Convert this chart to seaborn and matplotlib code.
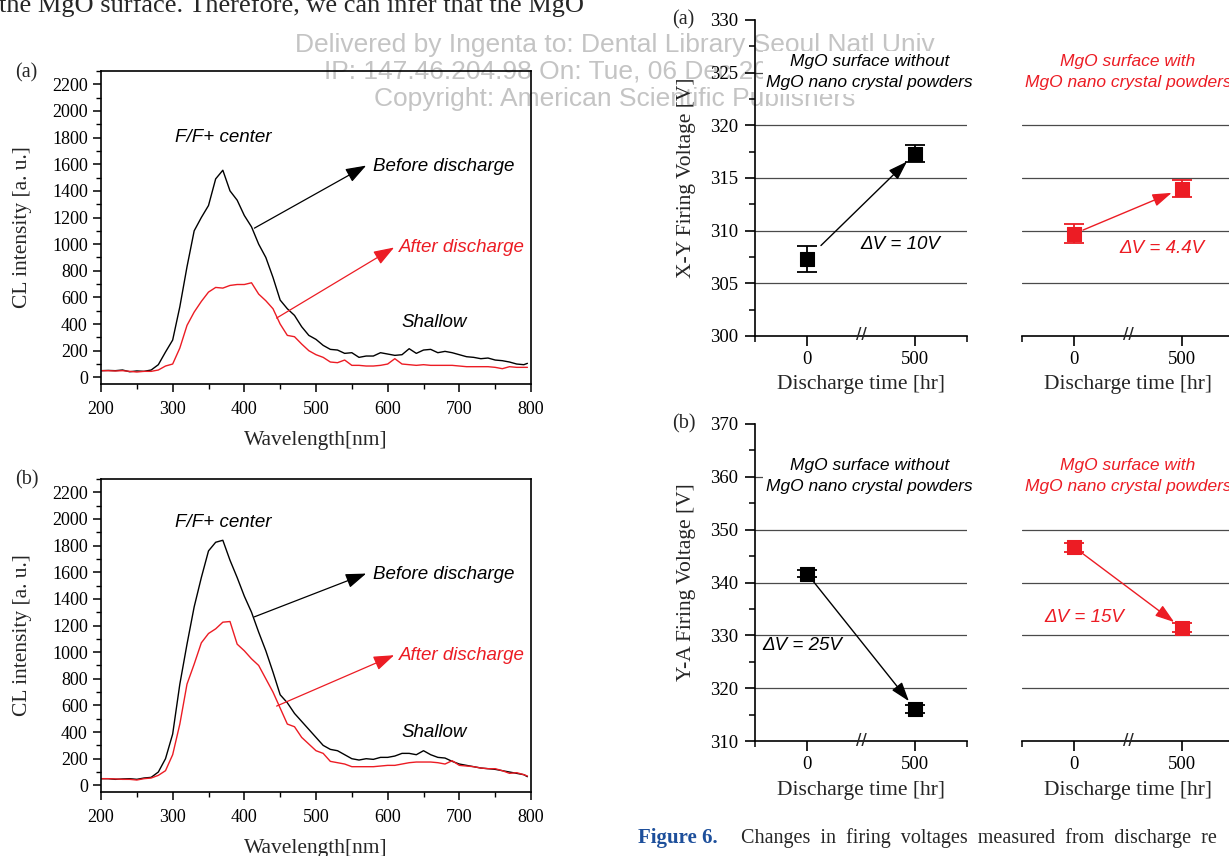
import matplotlib
matplotlib.use('Agg')
import matplotlib.pyplot as plt
import matplotlib.transforms as mtransforms
from matplotlib.ticker import MultipleLocator, FixedLocator
import seaborn as sns

# CL spectra, every 10 nm (last point 795 nm)
wavelength = [200, 210, 220, 230, 240, 250, 260, 270, 280, 290,
              300, 310, 320, 330, 340, 350, 360, 370, 380, 390,
              400, 410, 420, 430, 440, 450, 460, 470, 480, 490,
              500, 510, 520, 530, 540, 550, 560, 570, 580, 590,
              600, 610, 620, 630, 640, 650, 660, 670, 680, 690,
              700, 710, 720, 730, 740, 750, 760, 770, 780, 790, 795]

a_before = [50, 52, 50, 55, 42, 48, 45, 55, 95, 190,
            280, 530, 830, 1100, 1200, 1290, 1490, 1555, 1400, 1330,
            1215, 1130, 1000, 900, 750, 580, 515, 465, 380, 315,
            285, 240, 210, 205, 180, 185, 150, 160, 160, 185,
            175, 165, 170, 215, 180, 205, 210, 185, 195, 185,
            170, 155, 150, 140, 145, 130, 125, 115, 100, 95, 105]
a_after = [50, 50, 48, 50, 45, 40, 45, 45, 55, 85,
           100, 220, 390, 490, 570, 640, 675, 670, 690, 697,
           697, 710, 625, 575, 515, 400, 315, 305, 250, 200,
           170, 150, 115, 110, 130, 90, 90, 85, 85, 90,
           100, 140, 100, 95, 90, 95, 90, 90, 90, 90,
           85, 80, 80, 80, 80, 75, 65, 80, 75, 75, 75]

b_before = [50, 50, 45, 48, 50, 45, 55, 60, 100, 200,
            385, 760, 1060, 1340, 1560, 1760, 1825, 1840, 1690, 1560,
            1420, 1300, 1150, 1010, 850, 680, 620, 540, 480, 420,
            360, 300, 270, 260, 230, 200, 190, 200, 195, 210,
            210, 220, 240, 240, 230, 260, 230, 210, 205, 180,
            160, 150, 140, 130, 125, 120, 110, 100, 90, 80, 65]
b_after = [50, 50, 48, 45, 45, 40, 50, 55, 75, 110,
           230, 460, 760, 910, 1070, 1140, 1175, 1225, 1230, 1060,
           1010, 950, 900, 800, 700, 580, 460, 440, 360, 310,
           260, 240, 180, 170, 160, 140, 140, 140, 140, 145,
           150, 150, 160, 170, 175, 175, 175, 170, 160, 185,
           150, 145, 140, 130, 125, 125, 110, 90, 95, 80, 70]

# firing voltages [V] at 0 and 500 hr
hours = [0, 500]
xy_without = [307.3, 317.3]
xy_without_err = [1.25, 0.8]
xy_with = [309.7, 314.0]
xy_with_err = [0.9, 0.8]
ya_without = [341.7, 316.1]
ya_without_err = [0.6, 0.8]
ya_with = [346.7, 331.4]
ya_with_err = [0.85, 0.85]

RED = '#ec1c24'
SERIF = ['Liberation Serif', 'DejaVu Serif']
SANS = ['Liberation Sans', 'DejaVu Sans']

sns.set_theme(style='ticks')
plt.rcParams['font.family'] = SERIF
plt.rcParams['axes.linewidth'] = 1.2
plt.rcParams['xtick.color'] = 'black'
plt.rcParams['ytick.color'] = 'black'

W, H = 1229, 856
fig = plt.figure(figsize=(W / 100, H / 100), dpi=100)
fig.patch.set_facecolor('white')


def box(l, t, w, h):
    return [l / W, 1 - (t + h) / H, w / W, h / H]


def italic(ax, x, y, s, color='black', size=13.5, **kw):
    ax.text(x, y, s, color=color, fontsize=size, style='italic', family=SANS, **kw)


def spectrum(ax, before, after, labels_y):
    sns.lineplot(x=wavelength, y=before, color='black', linewidth=1.0, ax=ax, legend=False)
    sns.lineplot(x=wavelength, y=after, color=RED, linewidth=1.0, ax=ax, legend=False)
    ax.set_xlim(200, 800)
    ax.set_ylim(-50, 2300)
    ax.xaxis.set_major_locator(MultipleLocator(100))
    ax.xaxis.set_minor_locator(MultipleLocator(50))
    ax.yaxis.set_major_locator(MultipleLocator(200))
    ax.yaxis.set_minor_locator(MultipleLocator(100))
    ax.tick_params(which='major', direction='out', length=6, width=1.1, labelsize=13)
    ax.tick_params(which='minor', direction='out', length=3.5, width=1.0)
    ax.tick_params(axis='x', which='major', pad=6)
    ax.set_ylim(-50, 2300)
    ax.set_xlabel('Wavelength[nm]', fontsize=15.5)
    ax.set_ylabel('CL intensity [a. u.]', fontsize=15.5)
    ax.yaxis.set_label_coords(-0.16, 0.5)
    ax.xaxis.set_label_coords(0.5, -0.15)
    for s in ax.spines.values():
        s.set_visible(True)
        s.set_color('black')
    ax.set_facecolor('none')
    fy, by, bs, bt, ay, as_, at, sy = labels_y
    italic(ax, 370, fy, 'F/F+ center', ha='center', va='center')
    ax.annotate('', xy=(570, by), xytext=(414, bs),
                arrowprops=dict(arrowstyle='-|>,head_length=0.9,head_width=0.32', color='black',
                                lw=0.9, mutation_scale=14, shrinkA=0, shrinkB=0))
    italic(ax, 580, bt, 'Before discharge', va='center')
    ax.annotate('', xy=(609, ay), xytext=(445, as_),
                arrowprops=dict(arrowstyle='-|>,head_length=0.9,head_width=0.32', color=RED,
                                lw=0.9, mutation_scale=14, shrinkA=0, shrinkB=0))
    italic(ax, 616, at, 'After discharge', color=RED, va='center')
    italic(ax, 665, sy, 'Shallow', ha='center', va='center')


ax_a = fig.add_axes(box(101, 71, 430, 313))
spectrum(ax_a, a_before, a_after, (1800, 1590, 1120, 1586, 975, 445, 975, 410))
ax_b = fig.add_axes(box(101, 479, 430, 313))
spectrum(ax_b, b_before, b_after, (1975, 1590, 1265, 1585, 977, 595, 977, 400))


def voltage(ax, vals, errs, color, ylim, major, first, title, title_x, dv_xy, dv_text, shrink):
    ax.set_facecolor('none')
    sns.scatterplot(x=hours, y=vals, marker='s', s=95, color=color, edgecolor=color,
                    ax=ax, zorder=4, legend=False)
    ax.errorbar(hours, vals, yerr=errs, fmt='none', ecolor=color, elinewidth=1.3,
                capsize=7.5, capthick=1.3, zorder=3)
    ax.set_xlim(-241, 741)
    ax.set_ylim(*ylim)
    ax.yaxis.set_major_locator(MultipleLocator(major))
    ax.yaxis.set_minor_locator(MultipleLocator(major / 2))
    ax.xaxis.set_major_locator(FixedLocator(hours))
    ax.xaxis.set_minor_locator(FixedLocator([-241, 741]))
    # horizontal guide lines at the inner major ticks
    level = ylim[0] + major
    while level < ylim[1]:
        ax.axhline(level, color='#4a4a4a', linewidth=0.9, zorder=1)
        level += major
    ax.tick_params(which='major', direction='out', length=7, width=1.2, labelsize=13.5, pad=5)
    ax.tick_params(which='minor', direction='out', length=4, width=1.1)
    ax.tick_params(axis='x', which='major', pad=4)
    ax.spines['top'].set_visible(False)
    ax.spines['right'].set_visible(False)
    ax.spines['bottom'].set_color('black')
    ax.spines['left'].set_color('black')
    ax.set_xlabel('Discharge time [hr]', fontsize=15.5)
    ax.xaxis.set_label_coords(0.5, -0.125)
    if not first:
        ax.spines['left'].set_visible(False)
        ax.tick_params(axis='y', which='both', left=False, labelleft=False)
    ax.text(title_x, 0.835, title, transform=ax.transAxes, ha='center', va='center',
            color=color, fontsize=12.5, style='italic', family=SANS, linespacing=1.5,
            bbox=dict(facecolor='white', edgecolor='none', pad=2.5), zorder=5)
    italic(ax, dv_xy[0], dv_xy[1], dv_text, color=color, size=13.5, ha='center', va='center')
    ax.annotate('', xy=(hours[1], vals[1]), xytext=(hours[0], vals[0]),
                arrowprops=dict(arrowstyle='-|>,head_length=0.9,head_width=0.3', color=color,
                                lw=1.0, mutation_scale=13, shrinkA=shrink[0], shrinkB=shrink[1]))
    brk = mtransforms.blended_transform_factory(ax.transData, ax.transAxes)
    ax.text(250, 0, '//', transform=brk, ha='center', va='center', fontsize=14,
            family=SANS, clip_on=False)


t_without = 'MgO surface without\nMgO nano crystal powders'
t_with = 'MgO surface with\nMgO nano crystal powders'

ax1 = fig.add_axes(box(755, 20, 212, 316))
voltage(ax1, xy_without, xy_without_err, 'black', (300, 330), 5, True, t_without, 0.54,
        (430, 308.7), 'ΔV = 10V', (14, 8))
ax1.set_ylabel('X-Y Firing Voltage [V]', fontsize=15.5)
ax1.yaxis.set_label_coords(-0.28, 0.5)
ax2 = fig.add_axes(box(1022, 20, 212, 316))
voltage(ax2, xy_with, xy_with_err, RED, (300, 330), 5, False, t_with, 0.5,
        (405, 308.3), 'ΔV = 4.4V', (7, 8))

ax3 = fig.add_axes(box(755, 424, 212, 317))
voltage(ax3, ya_without, ya_without_err, 'black', (310, 370), 10, True, t_without, 0.54,
        (-20, 328.1), 'ΔV = 25V', (5, 7))
ax3.set_ylabel('Y-A Firing Voltage [V]', fontsize=15.5)
ax3.yaxis.set_label_coords(-0.28, 0.5)
ax4 = fig.add_axes(box(1022, 424, 212, 317))
voltage(ax4, ya_with, ya_with_err, RED, (310, 370), 10, False, t_with, 0.5,
        (48, 333.4), 'ΔV = 15V', (6, 7))

# page text around the figures
fig.text(-0.001, 1 - 12 / H, 'the MgO surface. Therefore, we can infer that the MgO',
         fontsize=19, va='baseline', ha='left')
fig.text(15 / W, 1 - 73 / H, '(a)', fontsize=14.5, va='center', ha='left')
fig.text(15 / W, 1 - 480 / H, '(b)', fontsize=14.5, va='center', ha='left')
fig.text(672 / W, 1 - 20 / H, '(a)', fontsize=14.5, va='center', ha='left')
fig.text(672 / W, 1 - 424 / H, '(b)', fontsize=14.5, va='center', ha='left')
fig.text(638 / W, 1 - 843 / H, 'Figure 6.', fontsize=15, fontweight='bold',
         color='#1d4f9b', va='baseline')
fig.text(741 / W, 1 - 843 / H, 'Changes  in  firing  voltages  measured  from  discharge  re',
         fontsize=14.5, va='baseline')

for yy, line in [(45, 'Delivered by Ingenta to: Dental Library Seoul Natl Univ'),
                 (72, 'IP: 147.46.204.98 On: Tue, 06 Dec 2016 10:16:43'),
                 (99, 'Copyright: American Scientific Publishers')]:
    fig.text(615 / W, 1 - yy / H, line, fontsize=19, family=SANS, color='#c4c4c4',
             ha='center', va='center', zorder=-1)

fig.savefig('out.png', dpi=100)
